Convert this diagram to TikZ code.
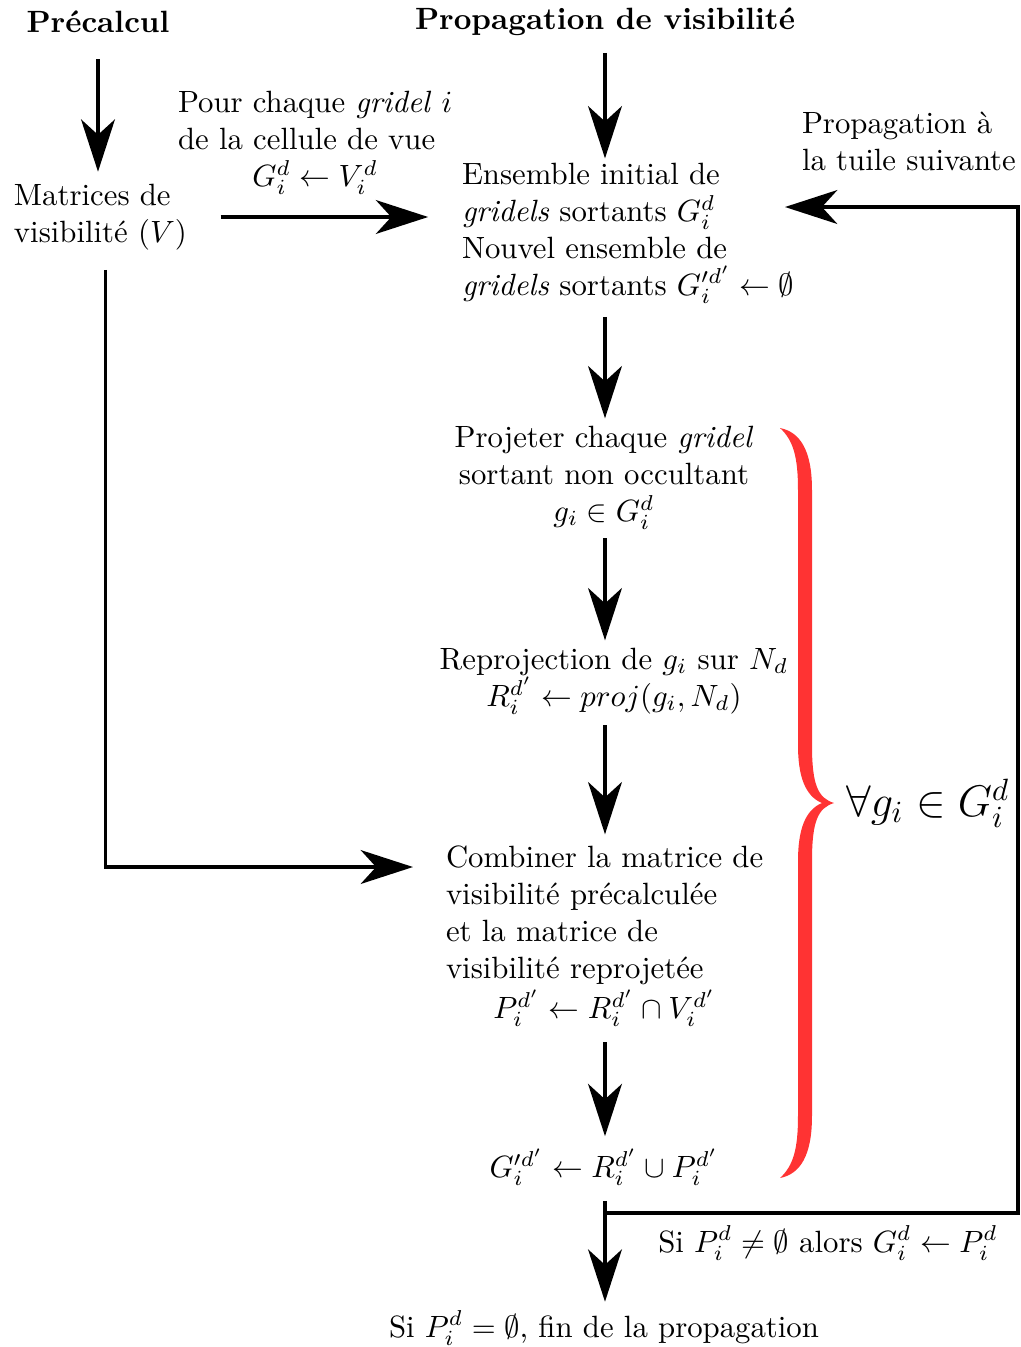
\documentclass[tikz,border=0pt]{standalone}
\usepackage{amssymb}
\usetikzlibrary{arrows.meta}
\definecolor{braceRed}{RGB}{255,51,51}
\begin{document}
\begin{tikzpicture}[x=0.325pt,y=-0.325pt,
  txt/.style={inner sep=0pt,outer sep=0pt},
  arr/.style={line width=1pt,line join=miter,-{Stealth[length=17pt,width=11pt,inset=5pt]}},
  plain/.style={line width=1pt,line join=miter}]
\useasboundingbox (0,0) rectangle (1021,1347);

% column headings
\node[txt,font=\bfseries] (pre) at (98,22) {Précalcul};
\node[txt,font=\bfseries] (prop) at (605,22) {Propagation de visibilité};

% precomputation column
\node[txt,anchor=north west,align=left] (mat) at (14,184) {Matrices de\\visibilité $(V)$};
\node[txt,anchor=north west] (pour) at (178,87) {\begin{tabular}{@{}l@{}}Pour chaque \textit{gridel} $i$\\de la cellule de vue\\\multicolumn{1}{@{}c@{}}{$G_i^d \leftarrow V_i^d$}\end{tabular}};

% propagation steps
\node[txt,anchor=north west,align=left] (init) at (462,163) {Ensemble initial de\\\textit{gridels} sortants $G_i^d$\\Nouvel ensemble de\\\textit{gridels} sortants $G_i^{\prime d'} \leftarrow \emptyset$};
\node[txt,anchor=north west,align=left] (next) at (802,112) {Propagation à\\la tuile suivante};
\node[txt,anchor=north,align=center] (proj) at (604,426) {Projeter chaque \textit{gridel}\\sortant non occultant\\$g_i \in G_i^d$};
\node[txt,anchor=north,align=center] (repr) at (614,648) {Reprojection de $g_i$ sur $N_d$\\$R_i^{d'} \leftarrow proj(g_i, N_d)$};
\node[txt,anchor=north west] (comb) at (446,842) {\begin{tabular}{@{}l@{}}Combiner la matrice de\\visibilité précalculée\\et la matrice de\\visibilité reprojetée\\\multicolumn{1}{@{}c@{}}{$P_i^{d'} \leftarrow R_i^{d'} \cap V_i^{d'}$}\end{tabular}};
\node[txt] (union) at (604,1167) {$G_i^{\prime d'} \leftarrow R_i^{d'} \cup P_i^{d'}$};
\node[txt] (fin) at (604,1328) {Si $P_i^d = \emptyset$, fin de la propagation};
\node[txt] (cond) at (828,1243) {Si $P_i^d \neq \emptyset$ alors $G_i^d \leftarrow P_i^d$};

% loop brace and its label
\fill[braceRed] (780,428) .. controls (800,432) and (812,450) .. (812,490)
  -- (812,745) .. controls (812,785) and (818,798) .. (834,803)
  .. controls (818,808) and (812,821) .. (812,861)
  -- (812,1116) .. controls (812,1156) and (800,1174) .. (780,1178)
  .. controls (793,1166) and (798,1150) .. (798,1116)
  -- (798,861) .. controls (798,830) and (805,810) .. (822,803)
  .. controls (805,796) and (798,776) .. (798,745)
  -- (798,490) .. controls (798,456) and (793,440) .. (780,428) -- cycle;
\node[txt,font=\Large] (forall) at (928,803) {$\forall g_i \in G_i^d$};

% connectors
\coordinate (split) at (605,1213);
\coordinate (back) at (785,207);
\coordinate (combin) at (413,867);
\draw[arr,shorten <=8.5pt,shorten >=4pt] (pre.south) -- (pre.south |- mat.north);
\draw[arr,shorten <=5.5pt,shorten >=1.5pt] (prop.south) -- (prop.south |- init.north);
\draw[arr,shorten <=11pt,shorten >=11pt] (mat.east) -- (mat.east -| init.west);
\draw[arr,shorten <=4.5pt,shorten >=2.5pt] (init.south -| prop.south) -- (prop.south |- proj.north);
\draw[arr,shorten <=3pt,shorten >=2.5pt] (prop.south |- proj.south) -- (prop.south |- repr.north);
\draw[arr,shorten <=3.5pt,shorten >=2.5pt] (prop.south |- repr.south) -- (prop.south |- comb.north);
\draw[arr,shorten <=4pt,shorten >=4pt] (prop.south |- comb.south) -- (prop.south |- union.north);
\draw[arr,shorten <=5pt,shorten >=3pt] (prop.south |- union.south) -- (prop.south |- fin.north);
\draw[arr] (split) -- ++(413,0) |- (back);
\draw[arr] ([xshift=1.6pt,yshift=-6.5pt]mat.south) |- (combin);
\end{tikzpicture}
\end{document}
